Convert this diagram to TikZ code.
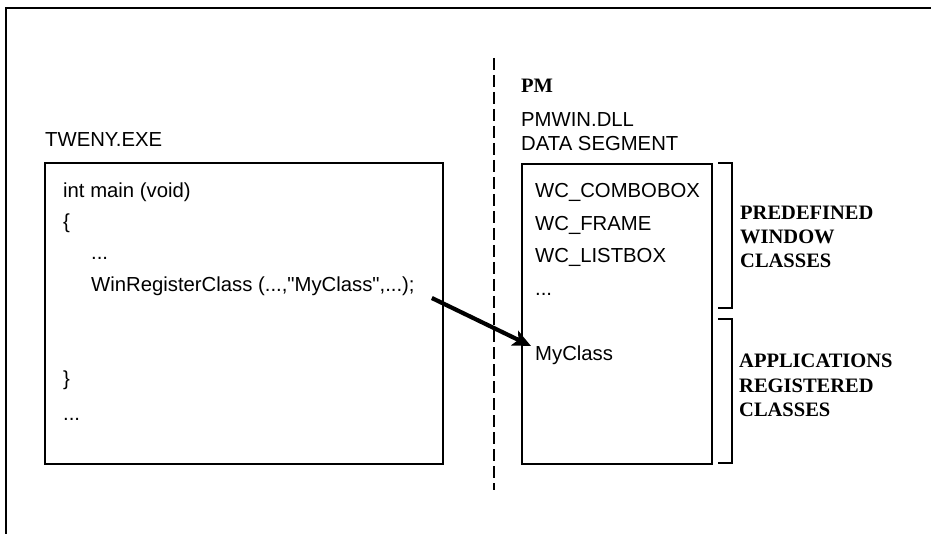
\documentclass[tikz,border=0pt]{standalone}
\usepackage{fontspec}
\setmainfont{Liberation Sans}
\newfontfamily\capserif{Liberation Serif}
\usetikzlibrary{arrows.meta}
\tikzset{
  sans/.style={anchor=base west, inner sep=0pt, font=\fontsize{20.3}{24}\selectfont},
  caps/.style={anchor=base west, inner sep=0pt, font=\capserif\bfseries\fontsize{20.5}{24}\selectfont},
  boxline/.style={line width=1.8pt},
  bracketline/.style={line width=1.6pt},
  divider/.style={line width=1.6pt, dash pattern=on 12pt off 5pt},
  bigarrow/.style={line width=4.2pt, -{Stealth[length=18pt,width=16pt,inset=4pt]}}
}
\begin{document}
\begin{tikzpicture}[x=1pt,y=-1pt]
\useasboundingbox (0,0) rectangle (931,534);
% outer frame (left and top edges)
\draw[line width=1.6pt] (6,534) -- (6,8) -- (931,8);
% divider
\draw[divider] (494,58) -- (494,490);
% left box
\node[sans] (exe) at (45,147) {TWENY.EXE};
\node[draw, boxline, anchor=north west, minimum width=398pt, minimum height=301pt, inner sep=0pt] (exebox) at (44,162) {};
\node[sans] (l1) at (63,198) {int main (void)};
\node[sans] (l2) at (63,229) {\{};
\node[sans] (l3) at (91,260) {...};
\node[sans] (wrc) at (91,292) {WinRegisterClass (...,\textquotedbl MyClass\textquotedbl,...);};
\node[sans] (l5) at (63,385) {\}};
\node[sans] (l6) at (63,420) {...};
% right side
\node[caps] (pm) at (521,93) {PM};
\node[sans] (dll) at (521,127) {PMWIN.DLL};
\node[sans] (seg) at (521,151) {DATA SEGMENT};
\node[draw, boxline, anchor=north west, minimum width=190pt, minimum height=300pt, inner sep=0pt] (pmbox) at (521,163) {};
\node[sans] (c1) at (535,198) {WC\_COMBOBOX};
\node[sans] (c2) at (535,231) {WC\_FRAME};
\node[sans] (c3) at (535,263) {WC\_LISTBOX};
\node[sans] (c4) at (535,296) {...};
\node[sans] (myclass) at (535,360) {MyClass};
% brackets
\draw[bracketline] (718,163) -- (732,163) -- (732,308) -- (718,308);
\draw[bracketline] (718,319) -- (732,319) -- (732,463) -- (718,463);
\node[caps] (p1) at (740,220) {PREDEFINED};
\node[caps] (p2) at (740,244) {WINDOW};
\node[caps] (p3) at (740,268) {CLASSES};
\node[caps] (a1) at (739,367) {APPLICATIONS};
\node[caps] (a2) at (739,392) {REGISTERED};
\node[caps] (a3) at (739,416) {CLASSES};
% arrow
\draw[bigarrow] ([shift={(17pt,-6pt)}]wrc.base east) -- ([shift={(-4pt,14pt)}]myclass.base west);
\end{tikzpicture}
\end{document}
